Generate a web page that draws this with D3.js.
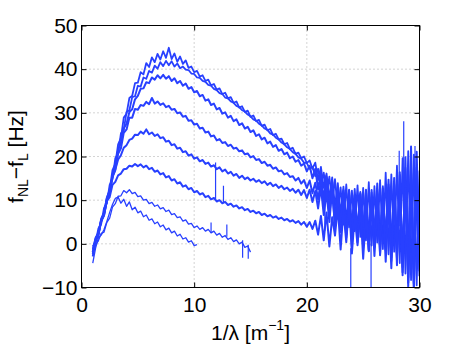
<!DOCTYPE html>
<html>
<head>
<meta charset="utf-8">
<script src="https://d3js.org/d3.v7.min.js"></script>
<style>
  body { margin: 0; background: #fff; }
  text { font-family: "Liberation Sans", Arial, Helvetica, sans-serif; }
</style>
</head>
<body>
<div id="chart"></div>
<script>
// sample positions on the x axis, 1/lambda [1/m]
const waveNumber = [
  1, 1.25, 1.5, 1.75, 2, 2.25, 2.5, 2.75,
  3, 3.25, 3.5, 3.75, 4, 4.25, 4.5, 4.75,
  5, 5.25, 5.5, 5.75, 6, 6.25, 6.5, 6.75,
  7, 7.25, 7.5, 7.75, 8, 8.25, 8.5, 8.75,
  9, 9.25, 9.5, 9.75, 10, 10.25, 10.5, 10.75,
  11, 11.25, 11.5, 11.75, 12, 12.25, 12.5, 12.75,
  13, 13.25, 13.5, 13.75, 14, 14.25, 14.5, 14.75,
  15, 15.25, 15.5, 15.75, 16, 16.25, 16.5, 16.75,
  17, 17.25, 17.5, 17.75, 18, 18.25, 18.5, 18.75,
  19, 19.25, 19.5, 19.75, 20, 20.25, 20.5, 20.75,
  21, 21.25, 21.5, 21.75, 22, 22.25, 22.5, 22.75,
  23, 23.25, 23.5, 23.75, 24, 24.25, 24.5, 24.75,
  25, 25.25, 25.5, 25.75, 26, 26.25, 26.5, 26.75,
  27, 27.25, 27.5, 27.75, 28, 28.25, 28.5, 28.75,
  29, 29.25, 29.5, 29.75, 30
];

// f_NL - f_L [Hz], one array per run (same sample positions)
const runA1 = [
  -1.2, 1.4, 2.6, 5.8, 7.1, 10.6, 12.4, 16.9,
  18.3, 22.8, 24.2, 28.9, 29.8, 33.4, 33.9, 36.8,
  36.9, 39.3, 38.8, 41.4, 40.5, 42.7, 41.6, 43.5,
  42.2, 44.1, 42.6, 44.9, 42.3, 43.6, 41.7, 42.9,
  41.2, 42.0, 40.3, 40.6, 39.3, 39.6, 38.3, 38.6,
  37.3, 37.6, 36.3, 36.6, 35.3, 35.6, 34.3, 34.6,
  33.3, 33.6, 32.3, 32.6, 31.2, 31.5, 30.2, 30.5,
  29.1, 29.4, 28.1, 28.4, 27.0, 27.3, 26.0, 26.3,
  24.9, 25.2, 23.9, 24.1, 22.8, 23.1, 21.7, 22.0,
  20.6, 20.9, 19.6, 20.0, 18.5, 19.1, 17.2, 18.6,
  14.6, 17.6, 12.8, 16.1, 10.4, 15.2, 8.6, 13.9,
  6.8, 13.1, 5.2, 12.4, 4.1, 12.6, 3.3, 11.9,
  2.8, 12.2, 1.9, 11.8, 2.4, 12.5, 1.1, 13.2,
  0.6, 12.9, 0.2, 14.1, -1.3, 15.8, -2.9, 17.4,
  -4.6, 18.2, -6.1, 16.9, -3.8
];
const runA2 = [
  -0.6, 0.4, 3.5, 4.6, 8.2, 9.3, 13.5, 14.8,
  19.6, 20.7, 25.3, 26.1, 30.2, 30.6, 33.6, 33.8,
  36.2, 36.0, 38.1, 37.8, 39.6, 39.2, 40.8, 40.1,
  41.6, 40.7, 41.9, 40.9, 41.8, 40.6, 41.3, 40.2,
  40.6, 39.9, 39.8, 39.0, 38.9, 38.1, 38.0, 37.3,
  37.1, 36.4, 36.2, 35.5, 35.2, 34.5, 34.3, 33.5,
  33.3, 32.6, 32.3, 31.6, 31.3, 30.6, 30.3, 29.6,
  29.2, 28.5, 28.2, 27.5, 27.1, 26.4, 26.1, 25.3,
  25.0, 24.3, 23.9, 23.2, 22.8, 22.1, 21.7, 21.0,
  20.6, 19.8, 19.5, 18.6, 18.5, 17.2, 17.6, 15.5,
  17.2, 13.4, 16.3, 11.2, 15.4, 9.3, 14.8, 7.6,
  12.9, 4.4, 13.6, 3.8, 12.2, 2.9, 13.4, 1.6,
  12.8, 0.8, 14.1, -0.4, 13.2, 0.3, 14.6, -1.2,
  16.3, -2.4, 15.9, -1.8, 17.9, -4.4, 19.6, -6.8,
  21.2, -8.3, 20.4, -9.5, 16.8
];
const runB = [
  -1.8, 0.9, 2.2, 5.1, 6.6, 9.8, 11.9, 15.6,
  17.8, 21.5, 23.1, 26.4, 27.5, 30.2, 30.8, 33.1,
  33.9, 35.5, 35.6, 37.0, 36.8, 38.1, 37.6, 38.6,
  37.9, 38.7, 37.8, 38.4, 37.3, 37.9, 36.8, 37.3,
  36.2, 36.7, 35.5, 35.9, 34.7, 35.0, 33.8, 34.1,
  32.8, 33.1, 31.8, 32.1, 30.8, 31.1, 29.8, 30.1,
  28.9, 29.3, 28.1, 28.5, 27.2, 27.6, 26.4, 26.8,
  25.6, 26.0, 24.7, 25.1, 23.9, 24.3, 23.0, 23.4,
  22.2, 22.6, 21.3, 21.7, 20.5, 20.9, 19.6, 20.0,
  18.8, 19.2, 17.9, 18.4, 16.6, 17.9, 15.0, 17.2,
  12.5, 16.2, 10.1, 15.3, 8.2, 14.1, 5.6, 12.8,
  3.4, 11.6, 2.1, 11.2, 1.0, 10.4, 0.4, 11.6,
  -0.9, 10.9, -1.6, 12.3, -0.8, 11.4, -2.3, 12.7,
  -1.5, 13.6, -3.1, 12.2, -4.9, 16.4, -7.2, 13.9,
  -9.8, 15.1, -10, 13.2, -7.4
];
const runC = [
  -2.9, 0.5, 2.0, 5.3, 6.5, 10.1, 11.4, 15.3,
  16.9, 20.6, 21.9, 25.4, 26.2, 28.9, 28.9, 30.9,
  30.7, 31.8, 31.6, 32.5, 32.0, 33.4, 32.1, 32.6,
  31.8, 32.2, 31.3, 31.6, 30.7, 30.9, 29.9, 30.1,
  29.1, 29.3, 28.2, 28.3, 27.3, 27.5, 26.4, 26.6,
  25.5, 25.7, 24.6, 24.8, 23.7, 24.0, 23.1, 23.3,
  22.4, 22.7, 21.8, 22.0, 21.2, 21.4, 20.5, 20.7,
  19.8, 20.1, 19.2, 19.4, 18.5, 18.8, 17.9, 18.1,
  17.2, 17.5, 16.6, 16.8, 15.9, 16.2, 15.3, 15.5,
  14.5, 15.1, 13.8, 14.6, 12.8, 14.5, 11.6, 14.0,
  10.2, 14.6, 8.3, 13.4, 6.9, 12.1, 4.2, 11.5,
  2.7, 10.8, 1.4, 12.2, -0.6, 11.1, 2.3, 9.9,
  0.9, 12.4, -1.3, 10.6, 0.2, 13.8, -2.6, 11.2,
  -0.9, 14.7, -3.9, 15.1, -2.2, 12.6, -5.3, 19.8,
  -7.7, 22.3, -9.1, 17.5, -4.2
];
const runD = [
  -2.3, 0.9, 2.1, 5.4, 7.0, 10.5, 12.0, 15.4,
  17.0, 19.3, 20.3, 22.0, 22.6, 23.8, 24.1, 25.0,
  24.9, 25.7, 25.2, 26.2, 25.1, 25.5, 24.7, 25.1,
  24.2, 24.4, 23.4, 23.6, 22.6, 22.8, 21.8, 22.0,
  21.0, 21.2, 20.2, 20.5, 19.5, 19.8, 18.9, 19.2,
  18.3, 18.6, 17.7, 18.0, 17.1, 17.5, 16.6, 17.0,
  16.1, 16.5, 15.6, 16.0, 15.1, 15.6, 14.8, 15.2,
  14.5, 14.9, 14.2, 14.6, 13.9, 14.3, 13.5, 14.0,
  13.2, 13.6, 12.8, 13.3, 12.5, 12.9, 12.1, 12.6,
  11.7, 12.4, 11.2, 12.3, 10.5, 12.4, 9.6, 12.1,
  8.1, 12.9, 6.6, 11.8, 5.0, 12.7, 3.9, 10.9,
  4.6, 12.3, 2.2, 10.4, 3.5, 9.6, 1.8, 11.3,
  3.9, 10.2, 0.7, 9.4, 2.6, 11.7, 0.1, 10.8,
  1.7, 12.1, -1.4, 13.6, 0.4, 11.2, -3.6, 14.4,
  -2.1, 16.3, -5.8, 12.9, -1.7
];
const runE = [
  -1.9, 1.2, 2.4, 5.5, 6.8, 9.8, 10.7, 13.5,
  14.2, 15.7, 16.1, 17.1, 17.2, 17.9, 17.7, 18.3,
  17.8, 18.2, 17.5, 17.9, 17.1, 17.4, 16.5, 16.8,
  15.9, 16.2, 15.2, 15.5, 14.5, 14.8, 13.8, 14.1,
  13.1, 13.4, 12.5, 12.8, 11.8, 12.1, 11.3, 11.6,
  10.7, 11.0, 10.2, 10.5, 9.7, 10.0, 9.3, 9.6,
  8.9, 9.2, 8.5, 8.8, 8.1, 8.4, 7.7, 8.0,
  7.3, 7.6, 7.0, 7.3, 6.6, 6.9, 6.3, 6.6,
  6.0, 6.3, 5.7, 6.0, 5.4, 5.7, 5.1, 5.4,
  4.8, 5.2, 4.4, 5.0, 3.9, 5.0, 3.4, 5.3,
  2.1, 6.4, 0.8, 7.2, -0.6, 6.1, 1.9, 8.4,
  -1.3, 7.7, 0.4, 9.2, -2.2, 6.5, -0.3, 8.8,
  -3.4, 7.1, -1.7, 9.5, -2.8, 8.3, -0.6, 10.4,
  -4.1, 9.7, -5.6, 11.3, -3.2, 13.5, -6.5, 12.7,
  -8.9, 14.9, -10.0, 21.1, -6.3
];
// these two runs stop early (x = 15 and x = 10.25)
const runF = [
  -2.4, -0.2, 0.7, 2.4, 2.7, 4.9, 5.9, 8.4,
  9.2, 10.9, 11.0, 12.2, 11.7, 12.4, 11.5, 11.8,
  10.8, 11.0, 10.0, 10.2, 9.2, 9.5, 8.6, 8.9,
  8.0, 8.3, 7.4, 7.7, 6.7, 6.9, 6.0, 6.2,
  5.2, 5.5, 4.5, 4.7, 3.7, 4.1, 3.3, 3.7,
  2.9, 3.3, 2.5, 2.9, 2.0, 2.4, 1.5, 1.9,
  1.0, 1.4, 0.5, 0.9, 0.0, 0.4, -0.8, -0.5,
  -1.9
];
const runG = [
  -4.4, -1.0, 1.4, 2.0, 3.3, 5.1, 7.2, 9.0,
  10.4, 10.7, 9.3, 10.2, 8.6, 9.6, 7.8, 8.4,
  7.1, 7.5, 6.2, 6.6, 5.4, 5.7, 4.6, 5.0,
  3.9, 4.3, 3.2, 3.6, 2.5, 2.9, 1.8, 2.2,
  1.1, 1.4, 0.4, 0.7, -0.4, -0.2
];

// single-sample glitches, drawn as vertical strokes
const spikeX    = [11.5, 11.9, 12.6, 12.9, 14.3, 14.8, 21.6, 23.9, 25.7, 28.2, 28.6, 29.6];
const spikeLow  = [2.5, 9.9, 9.4, 1.6, -3.2, -3.4, 3.0, -10, -10, 4.0, 6.0, 4.0];
const spikeHigh = [4.9, 18.6, 13.3, 4.4, 0.8, -0.2, 15.8, -1.0, 0.0, 21.3, 28.1, 22.4];

const xTicks = [0, 10, 20, 30];
const yTicks = [-10, 0, 10, 20, 30, 40, 50];

const runs = [runA1, runA2, runB, runC, runD, runE, runF, runG];

const width = 463, height = 348;
const lineColor = "#2840ff";

const x = d3.scaleLinear().domain([0, 30]).range([81.5, 419.5]);
const y = d3.scaleLinear().domain([-10, 50]).range([287.5, 25.5]);

const svg = d3.select("#chart").append("svg")
    .attr("width", width)
    .attr("height", height);

svg.append("rect").attr("width", width).attr("height", height).attr("fill", "#fff");

svg.append("clipPath").attr("id", "plot-clip")
  .append("rect")
    .attr("x", x(0)).attr("y", y(50))
    .attr("width", x(30) - x(0)).attr("height", y(-10) - y(50));

// dotted grid
const grid = svg.append("g")
    .attr("stroke", "#a8a8a8")
    .attr("stroke-width", 1)
    .attr("stroke-dasharray", "1,3");
grid.selectAll(".gx").data(xTicks.slice(1, -1)).join("line")
    .attr("x1", d => x(d)).attr("x2", d => x(d))
    .attr("y1", y(-10)).attr("y2", y(50));
grid.selectAll(".gy").data(yTicks.slice(1, -1)).join("line")
    .attr("y1", d => y(d)).attr("y2", d => y(d))
    .attr("x1", x(0)).attr("x2", x(30));

// the runs: the long noisy ones read as thick bands, the two short ones are thin
const line = d3.line()
    .x((d, i) => x(waveNumber[i]))
    .y(d => y(d));

const plot = svg.append("g").attr("clip-path", "url(#plot-clip)");

plot.selectAll(".run").data(runs).join("path")
    .attr("class", "run")
    .attr("d", line)
    .attr("fill", "none")
    .attr("stroke", lineColor)
    .attr("stroke-width", (d, i) => i < 2 ? 1.8 : (i < 6 ? 2 : 1.3))
    .attr("stroke-linejoin", "round");

plot.selectAll(".spike").data(spikeX).join("line")
    .attr("class", "spike")
    .attr("x1", d => x(d)).attr("x2", d => x(d))
    .attr("y1", (d, i) => y(spikeLow[i]))
    .attr("y2", (d, i) => y(spikeHigh[i]))
    .attr("stroke", lineColor)
    .attr("stroke-width", 1.2);

// axes, ticks pointing inward
function styleAxis(g) {
  g.select(".domain").remove();
  g.selectAll(".tick line").attr("stroke", "#000");
  g.selectAll(".tick text")
    .attr("fill", "#000")
    .style("font-size", "21px");
}

svg.append("g")
    .attr("transform", "translate(0," + y(-10) + ")")
    .call(d3.axisBottom(x).tickValues(xTicks).tickSizeInner(-5).tickSizeOuter(0).tickPadding(9.5))
    .call(styleAxis);

svg.append("g")
    .attr("transform", "translate(" + x(0) + ",0)")
    .call(d3.axisLeft(y).tickValues(yTicks).tickSizeInner(-5).tickSizeOuter(0).tickPadding(4))
    .call(styleAxis);

svg.append("g")
    .attr("transform", "translate(0," + y(50) + ")")
    .call(d3.axisTop(x).tickValues(xTicks).tickSizeInner(-5).tickSizeOuter(0).tickFormat(""))
    .call(styleAxis);

svg.append("g")
    .attr("transform", "translate(" + x(30) + ",0)")
    .call(d3.axisRight(y).tickValues(yTicks).tickSizeInner(-5).tickSizeOuter(0).tickFormat(""))
    .call(styleAxis);

// box
svg.append("rect")
    .attr("x", x(0)).attr("y", y(50))
    .attr("width", x(30) - x(0)).attr("height", y(-10) - y(50))
    .attr("fill", "none")
    .attr("stroke", "#000")
    .attr("stroke-width", 1);

// axis labels
const xLabel = svg.append("text")
    .attr("x", (x(0) + x(30)) / 2)
    .attr("y", 340)
    .attr("text-anchor", "middle")
    .style("font-size", "21px");
xLabel.append("tspan").text("1/λ [m");
xLabel.append("tspan").attr("dy", -10).style("font-size", "14px").text("−1");
xLabel.append("tspan").attr("dy", 10).text("]");

const yLabel = svg.append("text")
    .attr("transform", "translate(23," + (y(-10) + y(50)) / 2 + ") rotate(-90)")
    .attr("text-anchor", "middle")
    .style("font-size", "21px");
yLabel.append("tspan").text("f");
yLabel.append("tspan").attr("dy", 5).style("font-size", "14px").text("NL");
yLabel.append("tspan").attr("dy", -5).text("−f");
yLabel.append("tspan").attr("dy", 5).style("font-size", "14px").text("L");
yLabel.append("tspan").attr("dy", -5).text(" [Hz]");
</script>
</body>
</html>
